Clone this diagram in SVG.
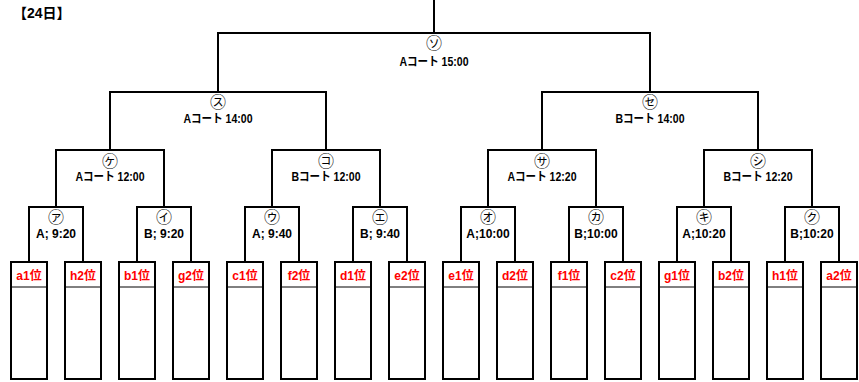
<svg xmlns="http://www.w3.org/2000/svg" width="859" height="382" viewBox="0 0 859 382">
<style>
.ln{fill:none;stroke:#000;stroke-width:2;stroke-linecap:square}
.bx{fill:#fff;stroke:#000;stroke-width:2}
.hd{stroke:#000;stroke-width:1}
.lb{font-family:"Liberation Sans","Noto Sans CJK JP",sans-serif;font-weight:bold;font-size:12px;fill:#000;text-anchor:middle}
.ci{font-family:"Noto Sans CJK JP",sans-serif;font-size:16px;fill:#000;text-anchor:middle}
.tm{font-family:"Liberation Sans","Noto Sans CJK JP",sans-serif;font-weight:bold;font-size:12px;fill:#f00;text-anchor:middle}
.tt{font-family:"Liberation Sans","Noto Sans CJK JP",sans-serif;font-weight:bold;font-size:14px;fill:#000}
</style>
<rect width="859" height="382" fill="#fff"/>
<text class="tt" x="13" y="18">【24日】</text>
<g id="connectors">
<path class="ln" d="M434,0V33M218,92V33H650V92"/>
<path class="ln" d="M110,150V92H326V150"/>
<path class="ln" d="M542,150V92H758V150"/>
<path class="ln" d="M56,207V150H164V207M272,207V150H380V207M488,207V150H596V207M704,207V150H812V207"/>
<path class="ln" d="M29,262V207H83V262M137,262V207H191V262M245,262V207H299V262M353,262V207H407V262M461,262V207H515V262M569,262V207H623V262M677,262V207H731V262M785,262V207H839V262"/>
</g>
<g id="m-so"><text class="ci" x="434" y="49">㋞</text><text class="lb" x="434" y="66" textLength="69" lengthAdjust="spacingAndGlyphs">Aコート 15:00</text></g>
<g id="m-su"><text class="ci" x="218" y="108">㋜</text><text class="lb" x="218" y="123" textLength="69" lengthAdjust="spacingAndGlyphs">Aコート 14:00</text></g>
<g id="m-se"><text class="ci" x="650" y="108">㋝</text><text class="lb" x="650" y="123" textLength="69" lengthAdjust="spacingAndGlyphs">Bコート 14:00</text></g>
<g id="m-ke"><text class="ci" x="110" y="167">㋘</text><text class="lb" x="110" y="181" textLength="69" lengthAdjust="spacingAndGlyphs">Aコート 12:00</text></g>
<g id="m-ko"><text class="ci" x="326" y="167">㋙</text><text class="lb" x="326" y="181" textLength="69" lengthAdjust="spacingAndGlyphs">Bコート 12:00</text></g>
<g id="m-sa"><text class="ci" x="542" y="167">㋚</text><text class="lb" x="542" y="181" textLength="69" lengthAdjust="spacingAndGlyphs">Aコート 12:20</text></g>
<g id="m-shi"><text class="ci" x="758" y="167">㋛</text><text class="lb" x="758" y="181" textLength="69" lengthAdjust="spacingAndGlyphs">Bコート 12:20</text></g>
<g id="m-a"><text class="ci" x="56" y="223">㋐</text><text class="lb" x="56" y="238">A; 9:20</text></g>
<g id="m-i"><text class="ci" x="164" y="223">㋑</text><text class="lb" x="164" y="238">B; 9:20</text></g>
<g id="m-u"><text class="ci" x="272" y="223">㋒</text><text class="lb" x="272" y="238">A; 9:40</text></g>
<g id="m-e"><text class="ci" x="380" y="223">㋓</text><text class="lb" x="380" y="238">B; 9:40</text></g>
<g id="m-o"><text class="ci" x="488" y="223">㋔</text><text class="lb" x="488" y="238">A;10:00</text></g>
<g id="m-ka"><text class="ci" x="596" y="223">㋕</text><text class="lb" x="596" y="238">B;10:00</text></g>
<g id="m-ki"><text class="ci" x="704" y="223">㋖</text><text class="lb" x="704" y="238">A;10:20</text></g>
<g id="m-ku"><text class="ci" x="812" y="223">㋗</text><text class="lb" x="812" y="238">B;10:20</text></g>
<g id="t-a1"><rect class="bx" x="11" y="262" width="36" height="117"/><line class="hd" x1="11" y1="287" x2="47" y2="287"/><text class="tm" x="29" y="280">a1位</text></g>
<g id="t-h2"><rect class="bx" x="65" y="262" width="36" height="117"/><line class="hd" x1="65" y1="287" x2="101" y2="287"/><text class="tm" x="83" y="280">h2位</text></g>
<g id="t-b1"><rect class="bx" x="119" y="262" width="36" height="117"/><line class="hd" x1="119" y1="287" x2="155" y2="287"/><text class="tm" x="137" y="280">b1位</text></g>
<g id="t-g2"><rect class="bx" x="173" y="262" width="36" height="117"/><line class="hd" x1="173" y1="287" x2="209" y2="287"/><text class="tm" x="191" y="280">g2位</text></g>
<g id="t-c1"><rect class="bx" x="227" y="262" width="36" height="117"/><line class="hd" x1="227" y1="287" x2="263" y2="287"/><text class="tm" x="245" y="280">c1位</text></g>
<g id="t-f2"><rect class="bx" x="281" y="262" width="36" height="117"/><line class="hd" x1="281" y1="287" x2="317" y2="287"/><text class="tm" x="299" y="280">f2位</text></g>
<g id="t-d1"><rect class="bx" x="335" y="262" width="36" height="117"/><line class="hd" x1="335" y1="287" x2="371" y2="287"/><text class="tm" x="353" y="280">d1位</text></g>
<g id="t-e2"><rect class="bx" x="389" y="262" width="36" height="117"/><line class="hd" x1="389" y1="287" x2="425" y2="287"/><text class="tm" x="407" y="280">e2位</text></g>
<g id="t-e1"><rect class="bx" x="443" y="262" width="36" height="117"/><line class="hd" x1="443" y1="287" x2="479" y2="287"/><text class="tm" x="461" y="280">e1位</text></g>
<g id="t-d2"><rect class="bx" x="497" y="262" width="36" height="117"/><line class="hd" x1="497" y1="287" x2="533" y2="287"/><text class="tm" x="515" y="280">d2位</text></g>
<g id="t-f1"><rect class="bx" x="551" y="262" width="36" height="117"/><line class="hd" x1="551" y1="287" x2="587" y2="287"/><text class="tm" x="569" y="280">f1位</text></g>
<g id="t-c2"><rect class="bx" x="605" y="262" width="36" height="117"/><line class="hd" x1="605" y1="287" x2="641" y2="287"/><text class="tm" x="623" y="280">c2位</text></g>
<g id="t-g1"><rect class="bx" x="659" y="262" width="36" height="117"/><line class="hd" x1="659" y1="287" x2="695" y2="287"/><text class="tm" x="677" y="280">g1位</text></g>
<g id="t-b2"><rect class="bx" x="713" y="262" width="36" height="117"/><line class="hd" x1="713" y1="287" x2="749" y2="287"/><text class="tm" x="731" y="280">b2位</text></g>
<g id="t-h1"><rect class="bx" x="767" y="262" width="36" height="117"/><line class="hd" x1="767" y1="287" x2="803" y2="287"/><text class="tm" x="785" y="280">h1位</text></g>
<g id="t-a2"><rect class="bx" x="821" y="262" width="36" height="117"/><line class="hd" x1="821" y1="287" x2="857" y2="287"/><text class="tm" x="839" y="280">a2位</text></g>
</svg>
